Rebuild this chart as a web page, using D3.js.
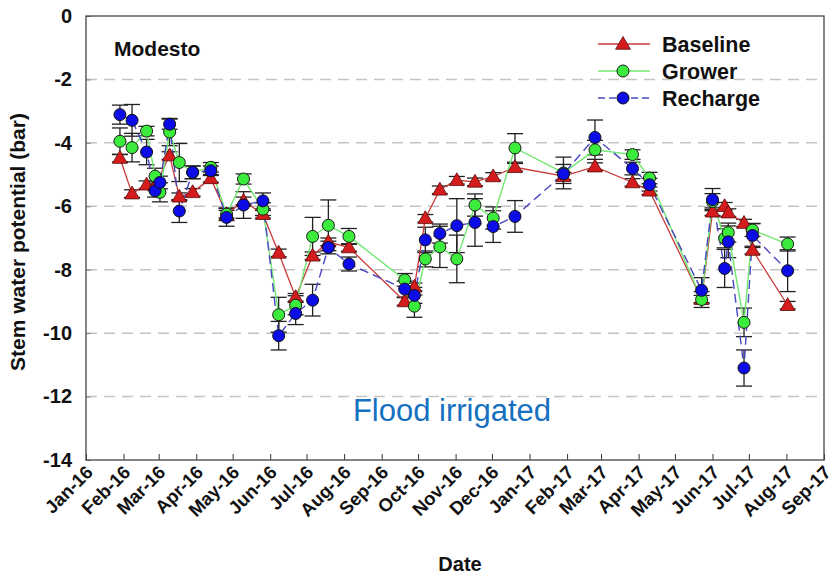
<!DOCTYPE html>
<html>
<head>
<meta charset="utf-8">
<script src="https://cdn.jsdelivr.net/npm/d3@7/dist/d3.min.js"></script>
<style>
  html, body { margin: 0; padding: 0; background: #fff; }
  svg { display: block; font-family: "Liberation Sans", Arial, sans-serif; }
</style>
</head>
<body>
<svg id="chart" width="834" height="576"></svg>
<script>
// Sampling dates (Modesto site)
const dates = [
  "2016-01-29","2016-02-08","2016-02-20","2016-02-27","2016-03-02","2016-03-10",
  "2016-03-18","2016-03-29","2016-04-13","2016-04-26","2016-05-10","2016-05-26",
  "2016-06-08","2016-06-22","2016-07-06","2016-07-19","2016-08-05","2016-09-20",
  "2016-09-28","2016-10-07","2016-10-19","2016-11-02","2016-11-17","2016-12-02",
  "2016-12-20","2017-01-29","2017-02-24","2017-03-27","2017-04-10","2017-05-23",
  "2017-06-01","2017-06-11","2017-06-14","2017-06-27","2017-07-04","2017-08-02"
];

// Stem water potential (bar), mean per treatment
const baseline = [
  -4.48,-5.60,-5.32,-5.35,null,-4.40,-5.70,-5.56,-5.12,-6.25,-5.83,-6.25,
  -7.47,-8.87,-7.56,-7.12,-7.30,-9.00,-8.54,-6.38,-5.48,-5.18,-5.23,-5.06,
  -4.77,-5.05,-4.75,-5.25,-5.51,-8.93,-6.17,-6.00,-6.20,-6.53,-7.38,-9.12
];
const grower = [
  -3.95,-4.15,-3.63,-5.05,-5.56,-3.66,-4.62,-4.93,-4.77,-6.25,-5.14,-6.09,
  -9.42,-9.12,-6.95,-6.60,-6.95,-8.32,-9.15,-7.66,-7.28,-7.66,-5.96,-6.37,
  -4.16,-4.95,-4.22,-4.37,-5.11,-8.94,-5.85,-7.01,-6.83,-9.66,-6.75,-7.19
];
const recharge = [
  -3.11,-3.29,-4.29,-5.51,-5.25,-3.41,-6.15,-4.93,-4.88,-6.35,-5.96,-5.83,
  -10.08,-9.38,-8.96,-7.30,-7.82,-8.61,-8.81,-7.06,-6.86,-6.61,-6.51,-6.64,
  -6.32,-4.98,-3.83,-4.81,-5.32,-8.65,-5.79,-7.96,-7.12,-11.10,-6.92,-8.03
];

// Standard errors
const baselineErr = [
  0.12,0.12,0.12,0.12,null,0.12,0.12,0.12,0.12,0.12,0.12,0.12,
  0.12,0.12,0.12,0.12,0.12,0.12,0.12,0.12,0.12,0.12,0.12,0.12,
  0.12,0.12,0.12,0.12,0.12,0.12,0.12,0.12,0.12,0.12,0.12,0.12
];
const growerErr = [
  0.42,0.45,0.15,0.25,0.30,0.43,0.60,0.20,0.15,0.20,0.16,0.20,
  0.55,0.30,0.60,0.80,0.25,0.20,0.35,0.25,0.65,0.75,0.35,0.35,
  0.45,0.50,0.30,0.15,0.18,0.25,0.25,0.30,0.30,0.45,0.20,0.22
];
const rechargeErr = [
  0.30,0.50,0.40,0.20,0.20,0.16,0.36,0.20,0.15,0.28,0.42,0.25,
  0.45,0.35,0.50,0.20,0.22,0.25,0.25,0.40,0.30,0.85,0.75,0.50,
  0.50,0.30,0.55,0.20,0.20,0.40,0.35,0.60,0.50,0.57,0.38,0.66
];

const seriesNames = ["Baseline", "Grower", "Recharge"];
const yTicks = [0, -2, -4, -6, -8, -10, -12, -14];
const siteLabel = "Modesto";
const noteLabel = "Flood irrigated";

const parse = d3.timeParse("%Y-%m-%d");
const series = [
  { name: seriesNames[0], values: baseline, err: baselineErr, shape: "triangle",
    fill: "#d41c1c", stroke: "#5a0a0a", line: "#c83a3a", dash: null, lw: 1.3 },
  { name: seriesNames[1], values: grower, err: growerErr, shape: "circle",
    fill: "#3cec3c", stroke: "#1a1a1a", line: "#70e870", dash: null, lw: 1.4 },
  { name: seriesNames[2], values: recharge, err: rechargeErr, shape: "circle",
    fill: "#0c0ce6", stroke: "#111111", line: "#4848c0", dash: "9,5", lw: 1.4 }
].map(s => ({
  ...s,
  points: dates.map((d, i) => ({ date: parse(d), v: s.values[i], e: s.err[i] }))
               .filter(p => p.v !== null)
}));

const svg = d3.select("#chart");
const m = { left: 86, right: 824, top: 16, bottom: 460 };

const x = d3.scaleTime()
  .domain([new Date(2016, 0, 1), new Date(2017, 8, 1)])
  .range([m.left, m.right]);
const y = d3.scaleLinear().domain([-14, 0]).range([m.bottom, m.top]);

// Dashed horizontal grid
svg.append("g")
  .selectAll("line")
  .data(yTicks.filter(t => t !== 0 && t !== -14))
  .join("line")
  .attr("x1", m.left).attr("x2", m.right)
  .attr("y1", d => y(d)).attr("y2", d => y(d))
  .attr("stroke", "#c4c4c4").attr("stroke-width", 1.5)
  .attr("stroke-dasharray", "11,7");

// Axes
const xAxis = d3.axisBottom(x)
  .ticks(d3.timeMonth.every(1))
  .tickFormat(d3.timeFormat("%b-%y"))
  .tickSizeInner(-6).tickSizeOuter(0);
const gx = svg.append("g").attr("transform", `translate(0,${m.bottom})`).call(xAxis);
gx.select(".domain").remove();
gx.selectAll(".tick line").attr("stroke", "#333").attr("stroke-width", 1);
gx.selectAll(".tick text")
  .attr("font-size", 18.5).attr("font-weight", "bold").attr("fill", "#111")
  .attr("text-anchor", "end")
  .attr("transform", "translate(0,6) rotate(-45)")
  .attr("dy", "0.35em").attr("y", 4).attr("x", 0);

const yAxis = d3.axisLeft(y).tickValues(yTicks).tickFormat(d3.format("d"))
  .tickSizeInner(-5).tickSizeOuter(0).tickPadding(14);
const gy = svg.append("g").attr("transform", `translate(${m.left},0)`).call(yAxis);
gy.select(".domain").remove();
gy.selectAll(".tick line").attr("stroke", "#888");
gy.selectAll(".tick text").attr("font-size", 20).attr("font-weight", "bold").attr("fill", "#111")
  .text(d => d === 0 ? "0" : "-" + Math.abs(d));

// Frame
svg.append("rect")
  .attr("x", m.left).attr("y", m.top)
  .attr("width", m.right - m.left).attr("height", m.bottom - m.top)
  .attr("fill", "none").attr("stroke", "#444").attr("stroke-width", 1.3);

// Error bars
const cap = 8;
const errG = svg.append("g");
series.forEach(s => {
  const g = errG.append("g");
  const pts = s.points.filter(p => p.e);
  g.selectAll("line.v").data(pts).join("line")
    .attr("x1", p => x(p.date)).attr("x2", p => x(p.date))
    .attr("y1", p => y(p.v + p.e)).attr("y2", p => y(p.v - p.e))
    .attr("stroke", "#222").attr("stroke-width", 1.3);
  g.selectAll("line.t").data(pts).join("line")
    .attr("x1", p => x(p.date) - cap).attr("x2", p => x(p.date) + cap)
    .attr("y1", p => y(p.v + p.e)).attr("y2", p => y(p.v + p.e))
    .attr("stroke", "#222").attr("stroke-width", 1.3);
  g.selectAll("line.b").data(pts).join("line")
    .attr("x1", p => x(p.date) - cap).attr("x2", p => x(p.date) + cap)
    .attr("y1", p => y(p.v - p.e)).attr("y2", p => y(p.v - p.e))
    .attr("stroke", "#222").attr("stroke-width", 1.3);
});

// Lines
const line = d3.line().x(p => x(p.date)).y(p => y(p.v));
series.forEach(s => {
  svg.append("path").datum(s.points)
    .attr("d", line).attr("fill", "none")
    .attr("stroke", s.line).attr("stroke-width", s.lw)
    .attr("stroke-dasharray", s.dash);
});

// Markers
const triSym = d3.symbol().type(d3.symbolTriangle).size(95);
function drawMarker(g, s, cx, cy) {
  if (s.shape === "triangle") {
    g.append("path").attr("d", triSym())
      .attr("transform", `translate(${cx},${cy + 1})`)
      .attr("fill", s.fill).attr("stroke", s.stroke).attr("stroke-width", 0.8);
  } else {
    g.append("circle").attr("cx", cx).attr("cy", cy).attr("r", 6)
      .attr("fill", s.fill).attr("stroke", s.stroke).attr("stroke-width", 1);
  }
}
series.forEach(s => {
  const g = svg.append("g");
  s.points.forEach(p => drawMarker(g, s, x(p.date), y(p.v)));
});

// Legend
const leg = svg.append("g");
series.forEach((s, i) => {
  const ly = 44 + i * 27;
  leg.append("line").attr("x1", 598).attr("x2", 650).attr("y1", ly).attr("y2", ly)
    .attr("stroke", s.line).attr("stroke-width", s.lw)
    .attr("stroke-dasharray", s.dash ? "7,4" : null);
  drawMarker(leg, s, 623, ly);
  leg.append("text").attr("x", 662).attr("y", ly + 7.5)
    .attr("font-size", 21.5).attr("font-weight", "bold").attr("fill", "#111")
    .text(s.name);
});

// Annotations
svg.append("text").attr("x", 114).attr("y", 56)
  .attr("font-size", 21).attr("font-weight", "bold").attr("fill", "#111")
  .text(siteLabel);
svg.append("text").attr("x", 452).attr("y", 421).attr("text-anchor", "middle")
  .attr("font-size", 31).attr("fill", "#1570c0")
  .text(noteLabel);

// Axis titles
svg.append("text").attr("transform", "translate(25,242) rotate(-90)")
  .attr("text-anchor", "middle")
  .attr("font-size", 21).attr("font-weight", "bold").attr("fill", "#111")
  .text("Stem water potential (bar)");
svg.append("text").attr("x", 460).attr("y", 571).attr("text-anchor", "middle")
  .attr("font-size", 20).attr("font-weight", "bold").attr("fill", "#111")
  .text("Date");
</script>
</body>
</html>
